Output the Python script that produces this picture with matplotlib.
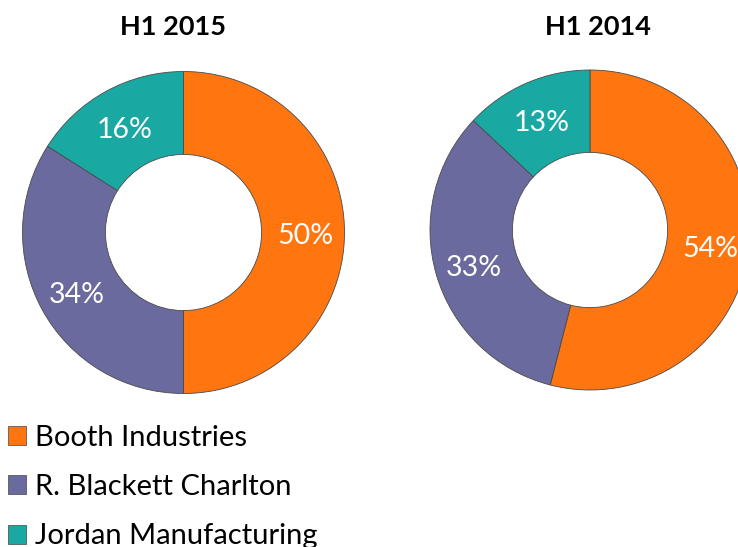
import matplotlib
matplotlib.use("Agg")
import matplotlib.pyplot as plt
from matplotlib.patches import Patch

categories = ["Booth Industries", "R. Blackett Charlton", "Jordan Manufacturing"]
values_2015 = [50, 34, 16]
values_2014 = [54, 33, 13]
titles = ["H1 2015", "H1 2014"]
colors = ["#FF7510", "#6A6A9E", "#1AA9A2"]

W, H = 738, 547
fig = plt.figure(figsize=(W / 100, H / 100), dpi=100)
ax = fig.add_axes([0, 0, 1, 1])

font = "Lato"

def donut(vals, cx, cy, r, title, tx):
    cy_d = H - cy
    wedges, texts = ax.pie(
        vals, colors=colors, startangle=90, counterclock=False,
        center=(cx, cy_d), radius=r,
        wedgeprops=dict(width=r * 0.515, edgecolor="#4a4a4a", linewidth=0.6),
        labels=[f"{v}%" for v in vals], labeldistance=0.755,
        textprops=dict(color="white", fontsize=20.5, family=font, ha="center", va="center"),
    )
    for t in texts:
        x, y = t.get_position()
        t.set_position((x, y - 4))
    ax.text(tx, H - 27, title, ha="center", va="center", fontsize=19.5,
            fontweight="bold", family=font, color="black")

donut(values_2015, 183.5, 232.5, 161, titles[0], 173)
donut(values_2014, 590, 230, 160, titles[1], 598)

ax.set_xlim(0, W)
ax.set_ylim(0, H)
ax.set_aspect("equal")
ax.axis("off")

handles = [Patch(facecolor=c, edgecolor="#444444", linewidth=0.5) for c in colors]
leg = ax.legend(handles, categories, loc="upper left", bbox_to_anchor=(-0.001, 1 - 416 / H),
                bbox_transform=fig.transFigure, frameon=False,
                prop=dict(family=font, size=21), handlelength=0.62, handleheight=0.62,
                handletextpad=0.3, labelspacing=0.8, borderaxespad=0, borderpad=0.3)

fig.savefig("out.png", dpi=100)
